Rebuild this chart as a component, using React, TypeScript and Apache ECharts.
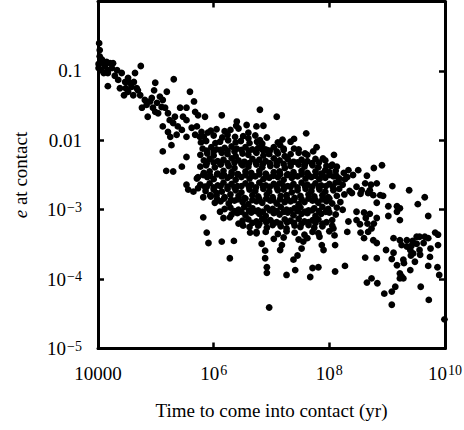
import { useEffect, useRef } from 'react';
import * as echarts from 'echarts';

// Each point: [log10(time to contact in yr), log10(e at contact)]
const earlyBranch: number[][] = [
  [4.02,-0.60],[4.03,-0.70],[4.03,-0.79],[4.01,-0.90],[4.01,-0.96],[4.06,-0.99],[4.09,-0.89],[4.12,-0.93],[4.15,-0.87],[4.17,-0.99],
  [4.21,-0.89],[4.24,-0.96],[4.26,-0.89],[4.17,-1.22],[4.17,-1.03],[4.41,-1.03],[4.35,-1.13],[4.38,-1.25],[4.47,-1.16],[4.52,-1.10],
  [4.55,-1.17],[4.58,-1.23],[4.64,-1.03],[4.62,-1.16],[4.67,-1.25],[4.61,-1.35],[4.52,-1.30],[4.45,-1.35],[4.74,-0.93],[4.69,-1.28],
  [4.99,-1.17],[4.97,-1.28],[5.31,-1.12],[4.76,-1.53],[4.84,-1.49],[4.90,-1.44],[4.93,-1.39],[4.86,-1.66],[4.95,-1.53],[5.02,-1.46],
  [4.99,-1.59],[5.04,-1.61],[5.10,-1.52],[5.16,-1.53],[5.19,-1.30],[5.12,-1.42],[5.21,-1.61],[5.24,-1.71],[5.30,-1.75],[5.12,-1.80],
  [5.33,-1.66],[5.42,-1.53],[5.47,-1.66],[5.53,-1.71],[5.59,-1.30],[5.66,-1.44],[5.53,-1.53],[5.68,-1.59],[5.73,-1.64],[5.85,-1.66],
  [5.38,-1.80],[5.45,-1.85],[5.62,-1.82],[5.71,-1.80],[5.79,-1.88],[5.90,-1.89],[5.21,-1.88],[5.36,-1.92],[5.53,-1.95],[5.68,-1.92],
  [4.07,-0.84],[4.10,-1.03],[4.29,-1.07],[4.33,-0.99],[4.48,-1.25],[4.73,-1.35],[4.81,-1.42],[5.07,-1.37],[5.12,-2.16],[5.27,-2.07],
  [5.53,-2.24],[5.45,-2.38],[5.18,-2.44],[5.30,-2.45],[6.14,-1.64],[6.40,-1.73],[6.57,-1.78],[6.74,-1.80],[6.86,-1.79],[6.80,-1.56],
  [5.76,-1.95],[5.25,-1.95],
];

const upperFringe: number[][] = [
  [7.09,-1.66],[6.39,-1.79],[6.60,-1.89],[7.60,-1.90],[7.19,-1.99],[7.39,-1.98],[7.39,-2.12],[7.15,-2.07],[6.80,-2.00],[6.83,-2.07],
  [6.89,-2.13],[7.78,-2.10],[7.72,-2.16],[7.89,-2.26],[8.08,-2.21],[7.58,-2.19],[8.03,-2.37],[8.13,-2.38],[8.33,-2.43],[8.50,-2.43],
  [8.41,-2.50],[8.77,-2.40],[8.91,-2.36],[8.65,-2.51],[8.82,-2.62],[8.62,-2.62],[9.09,-2.66],[9.38,-2.72],[9.65,-2.82],[8.88,-2.79],
  [8.70,-2.72],[8.56,-2.72],[8.47,-2.67],[8.39,-2.76],[8.16,-2.60],[8.27,-2.56],[7.93,-2.43],[8.72,-2.64],[8.54,-2.77],[8.67,-2.76],
  [8.76,-2.79],[8.93,-2.80],[8.82,-2.90],[9.02,-2.95],[9.17,-2.95],[9.22,-2.98],[9.53,-2.92],[9.71,-3.09],[9.22,-3.15],[9.02,-3.09],
  [8.47,-3.03],[8.60,-3.04],[8.70,-3.06],[8.82,-3.12],[8.63,-3.12],[8.47,-3.15],[8.53,-3.21],[8.66,-3.20],[8.77,-3.20],[8.54,-3.33],
  [8.67,-3.32],[8.60,-3.41],[8.76,-3.44],[8.82,-3.48],[9.17,-3.03],[8.73,-3.27],[8.33,-3.17],[8.07,-3.27],[8.09,-3.37],[8.10,-3.51],
  [8.31,-3.32],
];

const coreUpper: number[][] = [
  [5.95,-1.86],[6.05,-1.84],[6.19,-1.87],[6.29,-1.85],[6.43,-1.83],
  [5.83,-1.95],[6.00,-1.93],[6.15,-1.96],[6.24,-1.92],[6.37,-1.95],[6.51,-1.94],[6.60,-1.97],[6.72,-1.93],[6.92,-1.96],
  [5.78,-2.03],[5.87,-2.01],[6.03,-2.04],[6.11,-2.02],[6.25,-2.00],[6.38,-2.03],[6.47,-2.01],[6.62,-2.04],[6.75,-2.02],[6.84,-2.05],[7.11,-2.03],[7.33,-2.02],
  [5.81,-2.12],[5.96,-2.10],[6.05,-2.13],[6.19,-2.11],[6.31,-2.09],[6.40,-2.12],[6.55,-2.10],[6.67,-2.13],[6.77,-2.11],[6.92,-2.14],[7.04,-2.10],[7.21,-2.12],[7.47,-2.13],
  [5.77,-2.21],[5.89,-2.19],[6.00,-2.22],[6.14,-2.18],[6.24,-2.20],[6.38,-2.23],[6.50,-2.19],[6.60,-2.21],[6.74,-2.18],[6.86,-2.22],[6.96,-2.20],[7.11,-2.19],[7.23,-2.23],[7.33,-2.20],[7.47,-2.18],[7.62,-2.21],
  [5.83,-2.29],[5.93,-2.27],[6.07,-2.30],[6.17,-2.28],[6.31,-2.26],[6.43,-2.29],[6.53,-2.31],[6.67,-2.27],[6.79,-2.28],[6.90,-2.30],[7.04,-2.26],[7.14,-2.29],[7.28,-2.27],[7.38,-2.31],[7.52,-2.28],[7.62,-2.30],[7.76,-2.27],[7.93,-2.29],
];

const coreMiddle: number[][] = [
  [5.77,-2.38],[5.87,-2.36],[6.02,-2.39],[6.12,-2.35],[6.26,-2.37],[6.36,-2.40],[6.50,-2.36],[6.60,-2.38],[6.74,-2.35],[6.84,-2.39],[6.98,-2.37],[7.09,-2.36],[7.23,-2.40],[7.33,-2.37],[7.47,-2.35],[7.57,-2.38],[7.71,-2.36],[7.81,-2.39],[7.95,-2.37],[8.05,-2.35],
  [5.83,-2.47],[5.93,-2.45],[6.07,-2.48],[6.17,-2.44],[6.31,-2.46],[6.41,-2.49],[6.55,-2.45],[6.65,-2.47],[6.79,-2.44],[6.90,-2.48],[7.04,-2.46],[7.14,-2.45],[7.28,-2.49],[7.38,-2.46],[7.52,-2.44],[7.62,-2.47],[7.76,-2.45],[7.86,-2.48],[8.00,-2.46],[8.11,-2.44],[8.25,-2.47],
  [5.71,-2.55],[5.89,-2.53],[6.00,-2.56],[6.14,-2.52],[6.24,-2.54],[6.38,-2.57],[6.48,-2.53],[6.62,-2.55],[6.72,-2.52],[6.86,-2.56],[6.96,-2.54],[7.11,-2.53],[7.21,-2.57],[7.35,-2.54],[7.45,-2.52],[7.59,-2.55],[7.69,-2.53],[7.83,-2.56],[7.93,-2.54],[8.07,-2.52],[8.17,-2.55],[8.31,-2.53],
  [5.77,-2.64],[5.93,-2.62],[6.07,-2.65],[6.17,-2.61],[6.31,-2.63],[6.41,-2.66],[6.55,-2.62],[6.65,-2.64],[6.79,-2.61],[6.90,-2.65],[7.04,-2.63],[7.14,-2.62],[7.28,-2.66],[7.38,-2.63],[7.52,-2.61],[7.62,-2.64],[7.76,-2.62],[7.86,-2.65],[8.00,-2.63],[8.11,-2.61],[8.23,-2.64],
  [5.86,-2.73],[6.00,-2.71],[6.14,-2.74],[6.24,-2.70],[6.38,-2.72],[6.48,-2.75],[6.62,-2.71],[6.72,-2.73],[6.86,-2.70],[6.96,-2.74],[7.11,-2.72],[7.21,-2.71],[7.35,-2.75],[7.45,-2.72],[7.59,-2.70],[7.69,-2.73],[7.83,-2.71],[7.93,-2.74],[8.07,-2.72],[8.17,-2.70],[8.35,-2.73],
];

const coreLower: number[][] = [
  [5.95,-2.81],[6.05,-2.79],[6.19,-2.82],[6.29,-2.78],[6.43,-2.80],[6.53,-2.83],[6.67,-2.79],[6.77,-2.81],[6.92,-2.78],[7.02,-2.82],[7.16,-2.80],[7.26,-2.79],[7.40,-2.83],[7.50,-2.80],[7.64,-2.78],[7.74,-2.81],[7.88,-2.79],[7.98,-2.82],[8.13,-2.80],[8.26,-2.78],
  [6.02,-2.90],[6.12,-2.88],[6.26,-2.91],[6.36,-2.87],[6.50,-2.89],[6.60,-2.92],[6.74,-2.88],[6.84,-2.90],[6.98,-2.87],[7.09,-2.91],[7.23,-2.89],[7.33,-2.88],[7.47,-2.92],[7.57,-2.89],[7.71,-2.87],[7.81,-2.90],[7.95,-2.88],[8.05,-2.91],[8.19,-2.89],
  [6.19,-2.99],[6.29,-2.97],[6.43,-3.00],[6.53,-2.96],[6.67,-2.98],[6.77,-3.01],[6.92,-2.97],[7.02,-2.99],[7.16,-2.96],[7.26,-3.00],[7.40,-2.98],[7.50,-2.97],[7.64,-3.01],[7.74,-2.98],[7.88,-2.96],[7.98,-2.99],[8.13,-2.97],[8.23,-3.00],
  [6.31,-3.07],[6.41,-3.05],[6.55,-3.08],[6.65,-3.04],[6.79,-3.06],[6.90,-3.09],[7.04,-3.05],[7.14,-3.07],[7.28,-3.04],[7.38,-3.08],[7.52,-3.06],[7.62,-3.05],[7.76,-3.09],[7.86,-3.06],[8.00,-3.04],[8.11,-3.07],
  [6.50,-3.16],[6.60,-3.14],[6.74,-3.17],[6.84,-3.13],[6.98,-3.15],[7.09,-3.18],[7.23,-3.14],[7.33,-3.16],[7.47,-3.13],[7.57,-3.17],[7.71,-3.15],[7.81,-3.14],[7.95,-3.18],[8.05,-3.15],
  [6.62,-3.25],[6.77,-3.23],[6.92,-3.26],[7.02,-3.22],[7.16,-3.24],[7.26,-3.27],[7.40,-3.23],[7.50,-3.25],[7.64,-3.22],[7.74,-3.26],[7.88,-3.24],[8.05,-3.23],
  [6.74,-3.34],[6.90,-3.32],[7.11,-3.35],[7.26,-3.31],[7.40,-3.33],[7.57,-3.36],[7.71,-3.32],[7.81,-3.34],[8.00,-3.31],
  [7.04,-3.42],[7.21,-3.40],[7.47,-3.43],[7.62,-3.41],[7.83,-3.39],
];

const coreFill: number[][] = [
  [5.88,-2.15],[6.00,-2.16],[6.12,-2.14],[6.24,-2.15],[6.36,-2.16],[6.48,-2.14],[6.61,-2.15],[6.73,-2.16],[6.85,-2.14],[6.97,-2.15],[7.09,-2.16],[7.21,-2.14],
  [5.88,-2.33],[6.00,-2.32],[6.12,-2.34],[6.24,-2.33],[6.36,-2.32],[6.48,-2.34],[6.61,-2.33],[6.73,-2.32],[6.85,-2.34],[6.97,-2.33],[7.09,-2.32],[7.21,-2.34],[7.33,-2.33],[7.45,-2.32],[7.58,-2.34],[7.70,-2.33],[7.82,-2.32],
  [5.82,-2.50],[5.94,-2.51],[6.06,-2.49],[6.18,-2.50],[6.30,-2.51],[6.42,-2.49],[6.55,-2.50],[6.67,-2.51],[6.79,-2.49],[6.91,-2.50],[7.03,-2.51],[7.15,-2.49],[7.27,-2.50],[7.39,-2.51],[7.52,-2.49],[7.64,-2.50],[7.76,-2.51],[7.88,-2.49],[8.00,-2.50],[8.12,-2.51],
  [5.88,-2.67],[6.00,-2.68],[6.12,-2.66],[6.24,-2.67],[6.36,-2.68],[6.48,-2.66],[6.61,-2.67],[6.73,-2.68],[6.85,-2.66],[6.97,-2.67],[7.09,-2.68],[7.21,-2.66],[7.33,-2.67],[7.45,-2.68],[7.58,-2.66],[7.70,-2.67],[7.82,-2.68],[7.94,-2.66],[8.06,-2.67],
  [6.06,-2.85],[6.18,-2.84],[6.30,-2.86],[6.42,-2.85],[6.55,-2.84],[6.67,-2.86],[6.79,-2.85],[6.91,-2.84],[7.03,-2.86],[7.15,-2.85],[7.27,-2.84],[7.39,-2.86],[7.52,-2.85],[7.64,-2.84],[7.76,-2.86],[7.88,-2.85],[8.00,-2.84],
  [6.36,-3.02],[6.48,-3.03],[6.61,-3.01],[6.73,-3.02],[6.85,-3.03],[6.97,-3.01],[7.09,-3.02],[7.21,-3.03],[7.33,-3.01],[7.45,-3.02],[7.58,-3.03],[7.70,-3.01],[7.82,-3.02],[7.94,-3.03],
  [6.67,-3.19],[6.79,-3.20],[6.91,-3.18],[7.03,-3.19],[7.15,-3.20],[7.27,-3.18],[7.39,-3.19],[7.52,-3.20],[7.64,-3.18],[7.76,-3.19],[7.88,-3.20],
];

const rightTail: number[][] = [
  [9.11,-3.41],[9.22,-3.44],[9.34,-3.44],[9.44,-3.45],[9.56,-3.39],[9.65,-3.39],[9.71,-3.41],[9.83,-3.33],[9.88,-3.36],[9.75,-3.56],
  [8.98,-3.58],[9.11,-3.62],[9.40,-3.58],[9.45,-3.63],[9.34,-3.53],[9.56,-3.58],[9.63,-3.48],[9.51,-3.49],[9.42,-3.52],[8.62,-3.69],
  [8.82,-3.70],[9.08,-3.71],[9.28,-3.72],[9.29,-3.77],[9.17,-3.80],[9.74,-3.68],[9.40,-3.87],[9.25,-3.96],[9.22,-3.99],[9.28,-3.99],
  [9.71,-3.81],[9.87,-3.83],[9.90,-3.94],[9.58,-4.11],[8.65,-4.05],[8.73,-3.99],[8.83,-4.06],[9.14,-4.11],[9.08,-4.18],[8.95,-4.21],
  [9.08,-4.37],[9.72,-4.30],[9.99,-4.58],[9.25,-3.51],[9.41,-3.66],[9.57,-3.65],[9.48,-3.75],[9.22,-3.92],[9.88,-3.51],[9.51,-3.39],
];

const lowerFringe: number[][] = [
  [5.53,-2.64],[5.56,-2.71],[5.65,-2.74],[5.73,-2.69],[5.73,-2.53],[5.85,-2.67],[5.82,-2.82],[5.94,-2.79],[6.05,-2.76],[5.82,-3.11],
  [5.88,-3.33],[5.91,-3.48],[6.14,-3.46],[6.35,-3.45],[6.28,-3.70],[6.83,-3.49],[6.89,-3.59],[6.89,-3.70],[6.92,-3.83],[6.92,-3.91],
  [6.96,-4.41],[6.11,-3.03],[6.17,-3.12],[6.28,-3.11],[6.43,-3.20],[6.51,-3.23],[6.63,-3.33],[6.74,-3.32],[7.15,-3.58],[7.18,-3.51],
  [7.26,-3.94],[7.38,-3.72],[7.45,-3.66],[7.41,-3.87],[7.52,-3.56],[7.67,-3.97],[7.71,-3.84],[7.81,-3.83],[8.10,-3.89],[8.27,-3.81],
  [7.90,-3.58],[7.87,-3.51],[7.55,-3.46],
];

const xTicks = [1e4, 1e6, 1e8, 1e10];
const xTickText = ['10000', '{b|10}{sup|6}', '{b|10}{sup|8}', '{b|10}{sup|10}'];
const yTicks = [1, 0.1, 0.01, 1e-3, 1e-4, 1e-5];
const yTickText = ['', '0.1', '0.01', '{b|10}{sup|−3}', '{b|10}{sup|−4}', '{b|10}{sup|−5}'];

const FONT = 'Liberation Serif';

function pickLabel(ticks: number[], texts: string[], v: number): string {
  const lv = Math.log10(v);
  for (let i = 0; i < ticks.length; i++) {
    if (Math.abs(Math.log10(ticks[i]) - lv) < 0.01) return texts[i];
  }
  return '';
}

const toPoints = (arr: number[][]) => arr.map(([lt, le]) => [Math.pow(10, lt), Math.pow(10, le)]);

export default function App() {
  const ref = useRef<HTMLDivElement>(null);
  useEffect(() => {
    if (!ref.current) return;
    const chart = echarts.init(ref.current, undefined, { renderer: 'svg' });
    const rich = {
      b: { fontFamily: FONT, fontSize: 19, color: '#000' },
      sup: { fontFamily: FONT, fontSize: 14, color: '#000', verticalAlign: 'top', padding: [0, 0, 0, 1] },
    };
    const axisLine = { show: true, onZero: false, lineStyle: { color: '#000', width: 3 } };
    const axisTick = { show: true, inside: true, length: 6, lineStyle: { color: '#000', width: 2.5 } };
    const groups = [earlyBranch, upperFringe, coreUpper, coreMiddle, coreLower, coreFill, rightTail, lowerFringe];
    chart.setOption({
      animation: false,
      backgroundColor: '#fff',
      grid: { left: 98, top: 1.5, width: 347, height: 347, outerBoundsMode: 'none', containLabel: false },
      xAxis: [
        {
          type: 'log', logBase: 100, min: 1e4, max: 1e10, position: 'bottom',
          axisLine, axisTick, splitLine: { show: false }, minorTick: { show: false },
          axisLabel: {
            margin: 15, color: '#000', fontFamily: FONT, fontSize: 19, rich,
            formatter: (v: number) => pickLabel(xTicks, xTickText, v),
          },
          name: 'Time to come into contact (yr)', nameLocation: 'middle', nameGap: 52,
          nameTextStyle: { fontFamily: FONT, fontSize: 19, color: '#000' },
        },
        {
          type: 'log', logBase: 100, min: 1e4, max: 1e10, position: 'top',
          axisLine, axisTick, splitLine: { show: false }, axisLabel: { show: false },
        },
      ],
      yAxis: [
        {
          type: 'log', logBase: 10, min: 1e-5, max: 1, position: 'left',
          axisLine, axisTick, splitLine: { show: false }, minorTick: { show: false },
          axisLabel: {
            margin: 16, color: '#000', fontFamily: FONT, fontSize: 19, rich,
            formatter: (v: number) => pickLabel(yTicks, yTickText, v),
          },
          name: '{i|e} at contact', nameLocation: 'middle', nameGap: 68, nameRotate: 90,
          nameTextStyle: {
            fontFamily: FONT, fontSize: 19, color: '#000',
            rich: { i: { fontFamily: FONT, fontSize: 19, fontStyle: 'italic', color: '#000' } },
          },
        },
        {
          type: 'log', logBase: 10, min: 1e-5, max: 1, position: 'right',
          axisLine, axisTick, splitLine: { show: false }, axisLabel: { show: false },
        },
      ],
      series: groups.map((g) => ({
        type: 'scatter',
        xAxisIndex: 0,
        yAxisIndex: 0,
        symbol: 'circle',
        symbolSize: 6.8,
        clip: false,
        silent: true,
        itemStyle: { color: '#000', opacity: 1 },
        data: toPoints(g),
      })),
    });
    return () => chart.dispose();
  }, []);
  return <div ref={ref} style={{ position: 'absolute', left: 0, top: 0, width: 464, height: 430 }} />;
}
